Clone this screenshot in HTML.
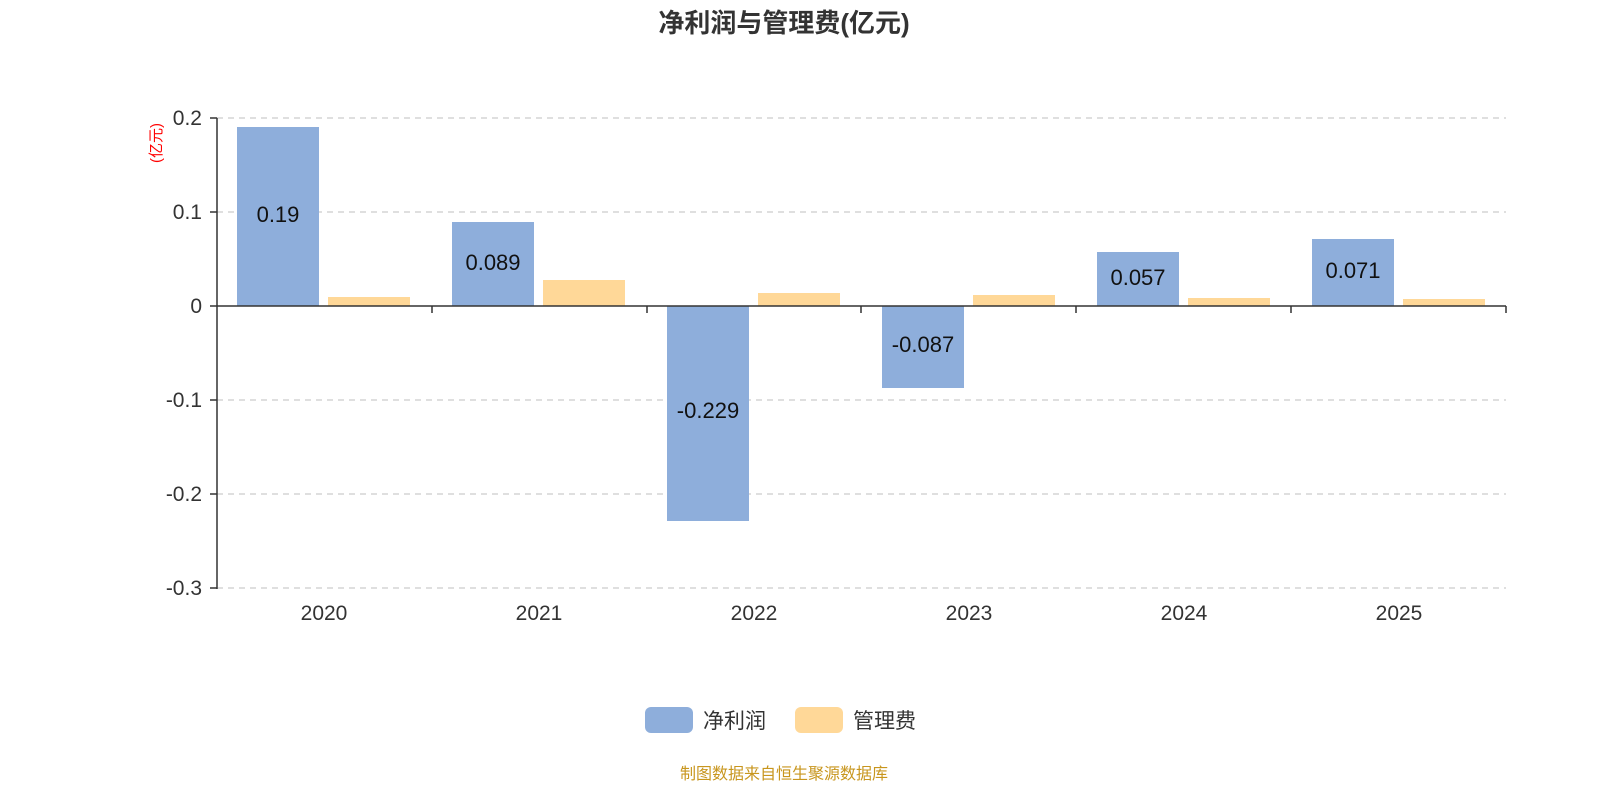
<!DOCTYPE html>
<html><head><meta charset="utf-8"><style>
html,body{margin:0;padding:0;background:#fff;}
svg{display:block;font-family:"Liberation Sans","Noto Sans CJK SC",sans-serif;}
</style></head><body>
<svg width="1600" height="800" viewBox="0 0 1600 800">
<text x="784" y="32" text-anchor="middle" font-size="26" font-weight="bold" fill="#333">净利润与管理费(亿元)</text>
<g stroke="#ccc" stroke-dasharray="6,5" stroke-width="1.3">
<line x1="217" y1="118" x2="1506" y2="118"/>
<line x1="217" y1="212" x2="1506" y2="212"/>
<line x1="217" y1="400" x2="1506" y2="400"/>
<line x1="217" y1="494" x2="1506" y2="494"/>
<line x1="217" y1="588" x2="1506" y2="588"/>
</g>
<g fill="#8eaedb">
<rect x="237" y="127" width="82" height="179"/>
<rect x="452" y="222" width="82" height="84"/>
<rect x="667" y="306" width="82" height="215"/>
<rect x="882" y="306" width="82" height="82"/>
<rect x="1097" y="252" width="82" height="54"/>
<rect x="1312" y="239" width="82" height="67"/>
</g>
<g fill="#ffd898">
<rect x="328" y="297" width="82" height="9"/>
<rect x="543" y="280" width="82" height="26"/>
<rect x="758" y="293" width="82" height="13"/>
<rect x="973" y="295" width="82" height="11"/>
<rect x="1188" y="298" width="82" height="8"/>
<rect x="1403" y="299" width="82" height="7"/>
</g>
<g stroke="#333" stroke-width="1.5">
<line x1="217" y1="118" x2="217" y2="589"/>
<line x1="210" y1="118" x2="217" y2="118"/>
<line x1="210" y1="212" x2="217" y2="212"/>
<line x1="210" y1="306" x2="217" y2="306"/>
<line x1="210" y1="400" x2="217" y2="400"/>
<line x1="210" y1="494" x2="217" y2="494"/>
<line x1="210" y1="588" x2="217" y2="588"/>
<line x1="217" y1="306" x2="1506" y2="306"/>
<line x1="432" y1="306" x2="432" y2="313"/>
<line x1="647" y1="306" x2="647" y2="313"/>
<line x1="861" y1="306" x2="861" y2="313"/>
<line x1="1076" y1="306" x2="1076" y2="313"/>
<line x1="1291" y1="306" x2="1291" y2="313"/>
<line x1="1506" y1="306" x2="1506" y2="313"/>
</g>
<g font-size="21" fill="#333" text-anchor="end">
<text x="202" y="125">0.2</text>
<text x="202" y="219">0.1</text>
<text x="202" y="313">0</text>
<text x="202" y="407">-0.1</text>
<text x="202" y="501">-0.2</text>
<text x="202" y="595">-0.3</text>
</g>
<text transform="translate(161,143) rotate(-90)" text-anchor="middle" font-size="15" fill="#f00">(亿元)</text>
<g font-size="21" fill="#333" text-anchor="middle">
<text x="324" y="620">2020</text>
<text x="539" y="620">2021</text>
<text x="754" y="620">2022</text>
<text x="969" y="620">2023</text>
<text x="1184" y="620">2024</text>
<text x="1399" y="620">2025</text>
</g>
<g font-size="22" fill="#111" text-anchor="middle">
<text x="278" y="222">0.19</text>
<text x="493" y="270">0.089</text>
<text x="708" y="418">-0.229</text>
<text x="923" y="352">-0.087</text>
<text x="1138" y="285">0.057</text>
<text x="1353" y="278">0.071</text>
</g>
<rect x="645" y="707" width="48" height="26" rx="6" fill="#8eaedb"/>
<text x="703" y="728" font-size="21" fill="#333">净利润</text>
<rect x="795" y="707" width="48" height="26" rx="6" fill="#ffd898"/>
<text x="853" y="728" font-size="21" fill="#333">管理费</text>
<text x="784" y="779" text-anchor="middle" font-size="16" fill="#c8961e">制图数据来自恒生聚源数据库</text>
</svg>
</body></html>
